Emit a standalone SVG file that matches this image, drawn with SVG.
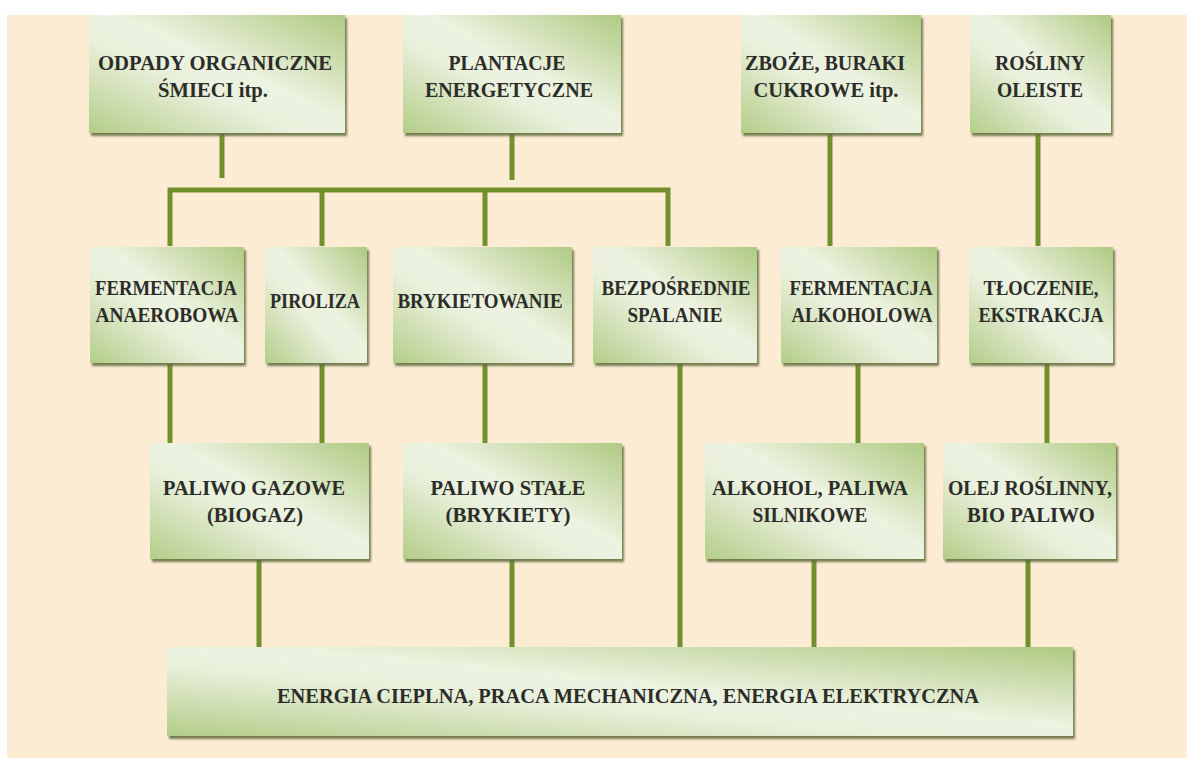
<svg xmlns="http://www.w3.org/2000/svg" width="1187" height="758" viewBox="0 0 1187 758">
  <defs>
    <linearGradient id="boxFill" x1="1" y1="0" x2="0" y2="1">
      <stop offset="0" stop-color="#afca82"/>
      <stop offset="0.45" stop-color="#edf3e1"/>
      <stop offset="0.6" stop-color="#e9f0dc"/>
      <stop offset="1" stop-color="#b3cd88"/>
    </linearGradient>
    <filter id="shade" x="-5%" y="-5%" width="112%" height="118%">
      <feDropShadow dx="2" dy="3" stdDeviation="1" flood-color="#5f6b3c" flood-opacity="0.85"/>
    </filter>
  </defs>
  <style>
    .box { fill: url(#boxFill); filter: url(#shade); }
    .lbl { font-family: "Liberation Serif", "DejaVu Serif", serif; font-weight: bold; font-size: 21.5px; fill: #2c2c28; text-anchor: middle; }
    .wire { stroke: #73902f; stroke-width: 5; fill: none; stroke-linecap: butt; }
  </style>

  <!-- page -->
  <rect x="0" y="0" width="1187" height="758" fill="#ffffff"/>
  <rect x="7" y="15" width="1180" height="743" fill="#fcecd3"/>

  <!-- connectors -->
  <g id="connectors">
    <line class="wire" x1="222" y1="134" x2="222" y2="178"/>
    <line class="wire" x1="512" y1="134" x2="512" y2="180"/>
    <polyline class="wire" points="170,246 170,190 668,190 668,246"/>
    <line class="wire" x1="322" y1="190" x2="322" y2="246"/>
    <line class="wire" x1="485" y1="190" x2="485" y2="246"/>
    <line class="wire" x1="830" y1="134" x2="830" y2="246"/>
    <line class="wire" x1="1038" y1="134" x2="1038" y2="246"/>
    <line class="wire" x1="170" y1="364" x2="170" y2="443"/>
    <line class="wire" x1="322" y1="364" x2="322" y2="443"/>
    <line class="wire" x1="485" y1="364" x2="485" y2="443"/>
    <line class="wire" x1="680" y1="364" x2="680" y2="647"/>
    <line class="wire" x1="858" y1="364" x2="858" y2="443"/>
    <line class="wire" x1="1047" y1="364" x2="1047" y2="443"/>
    <line class="wire" x1="259" y1="560" x2="259" y2="647"/>
    <line class="wire" x1="512" y1="560" x2="512" y2="647"/>
    <line class="wire" x1="814" y1="560" x2="814" y2="647"/>
    <line class="wire" x1="1028" y1="560" x2="1028" y2="647"/>
  </g>

  <!-- sources -->
  <g id="odpady">
    <rect class="box" x="89" y="15" width="256" height="118"/>
    <text class="lbl" x="215" y="70" textLength="234" lengthAdjust="spacingAndGlyphs">ODPADY ORGANICZNE</text>
    <text class="lbl" x="213" y="97" textLength="110" lengthAdjust="spacingAndGlyphs">ŚMIECI itp.</text>
  </g>
  <g id="plantacje">
    <rect class="box" x="403" y="15" width="218" height="118"/>
    <text class="lbl" x="507" y="70" textLength="117" lengthAdjust="spacingAndGlyphs">PLANTACJE</text>
    <text class="lbl" x="509" y="97" textLength="168" lengthAdjust="spacingAndGlyphs">ENERGETYCZNE</text>
  </g>
  <g id="zboze">
    <rect class="box" x="741" y="15" width="180" height="118"/>
    <text class="lbl" x="825" y="70" textLength="160" lengthAdjust="spacingAndGlyphs">ZBOŻE, BURAKI</text>
    <text class="lbl" x="826" y="97" textLength="145" lengthAdjust="spacingAndGlyphs">CUKROWE itp.</text>
  </g>
  <g id="rosliny">
    <rect class="box" x="970" y="15" width="141" height="118"/>
    <text class="lbl" x="1040" y="70" textLength="90" lengthAdjust="spacingAndGlyphs">ROŚLINY</text>
    <text class="lbl" x="1040" y="97" textLength="86" lengthAdjust="spacingAndGlyphs">OLEISTE</text>
  </g>

  <!-- processes -->
  <g id="fermentacja-anaerobowa">
    <rect class="box" x="90" y="247" width="154" height="116"/>
    <text class="lbl" x="166" y="295" textLength="142" lengthAdjust="spacingAndGlyphs">FERMENTACJA</text>
    <text class="lbl" x="167" y="322" textLength="143" lengthAdjust="spacingAndGlyphs">ANAEROBOWA</text>
  </g>
  <g id="piroliza">
    <rect class="box" x="265" y="247" width="102" height="116"/>
    <text class="lbl" x="315" y="308" textLength="90" lengthAdjust="spacingAndGlyphs">PIROLIZA</text>
  </g>
  <g id="brykietowanie">
    <rect class="box" x="393" y="247" width="179" height="116"/>
    <text class="lbl" x="480" y="308" textLength="165" lengthAdjust="spacingAndGlyphs">BRYKIETOWANIE</text>
  </g>
  <g id="spalanie">
    <rect class="box" x="593" y="247" width="164" height="116"/>
    <text class="lbl" x="676" y="295" textLength="149" lengthAdjust="spacingAndGlyphs">BEZPOŚREDNIE</text>
    <text class="lbl" x="675" y="322" textLength="95" lengthAdjust="spacingAndGlyphs">SPALANIE</text>
  </g>
  <g id="fermentacja-alkoholowa">
    <rect class="box" x="781" y="247" width="156" height="116"/>
    <text class="lbl" x="861" y="295" textLength="143" lengthAdjust="spacingAndGlyphs">FERMENTACJA</text>
    <text class="lbl" x="862" y="322" textLength="141" lengthAdjust="spacingAndGlyphs">ALKOHOLOWA</text>
  </g>
  <g id="tloczenie">
    <rect class="box" x="969" y="247" width="144" height="116"/>
    <text class="lbl" x="1041" y="295" textLength="115" lengthAdjust="spacingAndGlyphs">TŁOCZENIE,</text>
    <text class="lbl" x="1041" y="322" textLength="125" lengthAdjust="spacingAndGlyphs">EKSTRAKCJA</text>
  </g>

  <!-- fuels -->
  <g id="paliwo-gazowe">
    <rect class="box" x="150" y="443" width="219" height="116"/>
    <text class="lbl" x="254" y="495" textLength="182" lengthAdjust="spacingAndGlyphs">PALIWO GAZOWE</text>
    <text class="lbl" x="255" y="522" textLength="96" lengthAdjust="spacingAndGlyphs">(BIOGAZ)</text>
  </g>
  <g id="paliwo-stale">
    <rect class="box" x="403" y="443" width="219" height="116"/>
    <text class="lbl" x="508" y="495" textLength="155" lengthAdjust="spacingAndGlyphs">PALIWO STAŁE</text>
    <text class="lbl" x="508" y="522" textLength="125" lengthAdjust="spacingAndGlyphs">(BRYKIETY)</text>
  </g>
  <g id="alkohol">
    <rect class="box" x="705" y="443" width="219" height="116"/>
    <text class="lbl" x="810" y="495" textLength="196" lengthAdjust="spacingAndGlyphs">ALKOHOL, PALIWA</text>
    <text class="lbl" x="810" y="522" textLength="115" lengthAdjust="spacingAndGlyphs">SILNIKOWE</text>
  </g>
  <g id="olej">
    <rect class="box" x="943" y="443" width="173" height="116"/>
    <text class="lbl" x="1030" y="495" textLength="164" lengthAdjust="spacingAndGlyphs">OLEJ ROŚLINNY,</text>
    <text class="lbl" x="1031" y="522" textLength="128" lengthAdjust="spacingAndGlyphs">BIO PALIWO</text>
  </g>

  <!-- final use -->
  <g id="energia">
    <rect class="box" x="167" y="647" width="906" height="89"/>
    <text class="lbl" x="628" y="703" textLength="702" lengthAdjust="spacingAndGlyphs">ENERGIA CIEPLNA, PRACA MECHANICZNA, ENERGIA ELEKTRYCZNA</text>
  </g>
</svg>
